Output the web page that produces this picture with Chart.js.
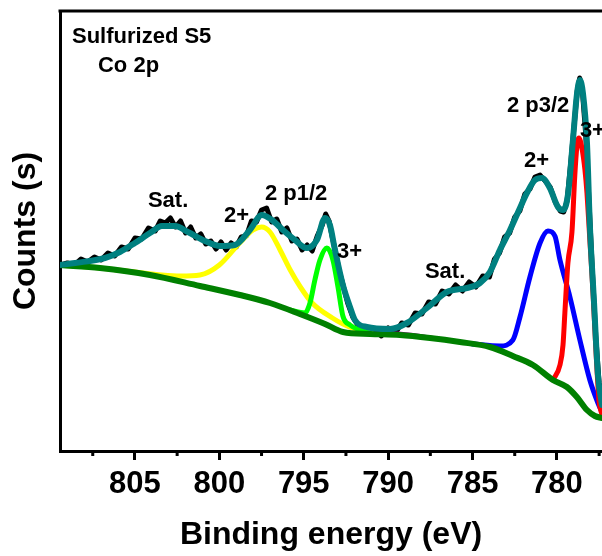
<!DOCTYPE html>
<html>
<head>
<meta charset="utf-8">
<script src="https://cdn.jsdelivr.net/npm/chart.js@4.4.1/dist/chart.umd.min.js"></script>
<style>
  html, body { margin: 0; padding: 0; background: #fff; }
  canvas { display: block; }
</style>
</head>
<body>
<canvas id="xps" width="602" height="556"></canvas>
<script>
// Co 2p XPS fit, binding energy (eV) vs counts (arb. units)
const majorTicks = [805, 800, 795, 790, 785, 780];
const minorTicks = [807.5, 802.5, 797.5, 792.5, 787.5, 782.5, 777.5];

const rawEnergy = [809.4, 809.0, 808.6, 808.2, 807.8, 807.4, 807.0, 806.6, 806.2, 805.8, 805.4, 805.0,
  804.6, 804.2, 803.8, 803.5, 803.2, 802.9, 802.6, 802.3, 802.0, 801.7, 801.4, 801.1, 800.8, 800.5,
  800.2, 799.9, 799.6, 799.3, 799.0, 798.7, 798.4, 798.1, 797.8, 797.5, 797.2, 796.9, 796.6, 796.3,
  796.0, 795.7, 795.4, 795.1, 794.8, 794.5, 794.2, 793.9, 793.7, 793.5, 793.3, 793.1, 792.9, 792.7,
  792.4, 792.1, 791.8, 791.5, 791.2, 790.8, 790.4, 790.0, 789.6, 789.2, 788.8, 788.4, 788.0, 787.6,
  787.2, 786.8, 786.4, 786.0, 785.6, 785.2, 784.8, 784.4, 784.0, 783.7, 783.4, 783.1, 782.8, 782.5,
  782.2, 781.9, 781.6, 781.3, 781.0, 780.7, 780.4, 780.1, 779.8, 779.6, 779.4, 779.2, 779.0, 778.8,
  778.65, 778.5, 778.3, 778.1, 777.9, 777.7, 777.5, 777.35];
const rawCounts = [186, 188, 186, 192, 189, 194, 191, 198, 195, 204, 202, 213,
  212, 223, 220, 230, 228, 233, 224, 230, 218, 224, 213, 217, 207, 210,
  202, 209, 201, 208, 204, 214, 215, 230, 229, 241, 243, 229, 232, 219,
  223, 210, 212, 201, 206, 200, 215, 226, 237, 230, 213, 198, 180, 168,
  148, 134, 126, 121, 119, 120, 115, 123, 117, 128, 126, 138, 137, 149,
  147, 160, 157, 166, 160, 169, 164, 175, 174, 192, 198, 214, 218, 234,
  240, 257, 262, 274, 276, 270, 264, 249, 240, 239, 250, 285, 322, 360,
  373, 362, 318, 250, 180, 115, 68, 48];

const envEnergy = [809.44, 808.55, 806.78, 805.89, 805.0, 804.11, 803.40, 802.63, 801.86, 800.85,
  799.96, 799.08, 798.19, 797.48, 796.88, 796.23, 795.52, 794.81, 794.22, 793.74, 793.45, 793.15,
  792.68, 792.26, 791.97, 791.26, 789.89, 788.89, 787.70, 786.52, 785.33, 784.56, 783.97, 783.38,
  782.78, 782.19, 781.78, 781.30, 780.89, 780.42, 779.94, 779.64, 779.35, 779.05, 778.82, 778.64,
  778.46, 778.22, 778.05, 777.81, 777.57, 777.33];
const envCounts = [186, 188, 193, 199, 208, 218, 225, 225, 219, 210,
  205, 206, 221, 236, 231, 221, 211, 203, 211, 233, 226, 201,
  166, 144, 131, 124, 122, 128, 143, 159, 163, 168, 179, 201,
  221, 243, 258, 271, 273, 263, 244, 241, 256, 311, 356, 371,
  358, 308, 226, 151, 76, 46];

const bgEnergy = [809.44, 807.07, 804.11, 801.15, 798.78, 797.0, 795.23, 793.74, 792.68, 791.08,
  789.30, 787.52, 785.75, 783.97, 782.61, 781.42, 780.24, 779.41, 778.82, 778.22, 777.75, 777.33];
const bgCounts = [186, 183, 176, 165, 156, 148, 137, 127, 119, 117,
  116, 113, 109, 104, 95, 86, 71, 64, 54, 41, 35, 33];

// Co2+ 2p1/2
const co2p1Energy = [809.44, 807.07, 805.0, 803.4, 802.3, 801.15, 800.0, 798.8, 798.0, 797.5,
  797.0, 796.4, 795.8, 795.2, 794.5, 793.3, 792.3, 791.0];
const co2p1Counts = [186, 183, 179, 176, 175, 176, 186, 208, 221, 224,
  219, 201, 181, 164, 148, 133, 124, 118];

// Co3+ 2p1/2
const co3p1Energy = [795.82, 794.93, 794.63, 794.34, 794.04, 793.63, 793.27, 792.97, 792.68, 792.26, 791.67, 791.08];
const co3p1Counts = [141, 138, 148, 171, 191, 203, 191, 164, 135, 126, 121, 118];

// satellite 2p3/2
const satEnergy = [791.5, 790.0, 788.5, 787.0, 785.5, 784.5, 783.8];
const satCounts = [118, 119, 117, 113, 109, 106, 103];

// Co2+ 2p3/2
const co2p3Energy = [785.0, 783.38, 782.61, 782.19, 781.60, 781.0, 780.53, 780.12, 779.82, 779.23,
  778.64, 778.05, 777.57, 777.33];
const co2p3Counts = [107, 105, 111, 134, 174, 208, 220, 215, 191, 154, 111, 71, 48, 39];

// Co3+ 2p3/2
const co3p3Energy = [780.24, 779.82, 779.64, 779.53, 779.35, 779.11, 778.94, 778.82, 778.70, 778.52,
  778.34, 778.22, 778.05, 777.87, 777.69, 777.51, 777.33];
const co3p3Counts = [71, 86, 106, 138, 188, 219, 276, 304, 313, 303, 281, 258, 211, 161, 101, 51, 36];

const peakLabels = [
  { text: 'Sulfurized S5', x: 808.73, y: 408 },
  { text: 'Co 2p', x: 807.19, y: 379 },
  { text: 'Sat.', x: 804.23, y: 244 },
  { text: '2+', x: 799.73, y: 229 },
  { text: '2 p1/2', x: 797.30, y: 251 },
  { text: '3+', x: 793.03, y: 193 },
  { text: 'Sat.', x: 787.82, y: 173 },
  { text: '2 p3/2', x: 782.96, y: 339 },
  { text: '2+', x: 781.95, y: 284 },
  { text: '3+', x: 778.64, y: 314 },
];

const FONT = '"Liberation Sans", Arial, sans-serif';

function toPoints(xs, ys) {
  return xs.map((x, i) => ({ x, y: ys[i] }));
}

function curve(label, xs, ys, color, width, order, smooth = true) {
  return {
    label,
    data: toPoints(xs, ys),
    borderColor: color,
    borderWidth: width,
    pointRadius: 0,
    fill: false,
    order,
    borderJoinStyle: 'round',
    borderCapStyle: 'round',
    cubicInterpolationMode: smooth ? 'monotone' : 'default',
    tension: smooth ? 0.4 : 0,
  };
}

const framePlugin = {
  id: 'frame',
  afterDraw(chart) {
    const { ctx, chartArea } = chart;
    const xs = chart.scales.x;
    ctx.save();
    ctx.strokeStyle = '#000';
    ctx.lineWidth = 3;
    ctx.beginPath();
    ctx.moveTo(chartArea.left - 1.5, chartArea.top);
    ctx.lineTo(chartArea.right, chartArea.top);
    minorTicks.forEach((v) => {
      const px = xs.getPixelForValue(v);
      ctx.moveTo(px, xs.top);
      ctx.lineTo(px, xs.top + 5);
    });
    ctx.stroke();
    ctx.restore();
  },
};

const labelPlugin = {
  id: 'peakLabels',
  afterDatasetsDraw(chart) {
    const { ctx } = chart;
    const xs = chart.scales.x;
    const ys = chart.scales.y;
    ctx.save();
    ctx.fillStyle = '#000';
    ctx.font = `bold 22px ${FONT}`;
    ctx.textAlign = 'left';
    ctx.textBaseline = 'alphabetic';
    peakLabels.forEach((l) => {
      ctx.fillText(l.text, xs.getPixelForValue(l.x), ys.getPixelForValue(l.y));
    });
    ctx.restore();
  },
};

new Chart(document.getElementById('xps'), {
  type: 'line',
  data: {
    datasets: [
      curve('Raw', rawEnergy, rawCounts, '#000000', 5, 7, false),
      curve('Sat.', satEnergy, satCounts, '#800080', 2, 6),
      curve('Co2+ 2p1/2', co2p1Energy, co2p1Counts, '#ffff00', 5, 5),
      curve('Co3+ 2p1/2', co3p1Energy, co3p1Counts, '#00ff00', 5, 4),
      curve('Co2+ 2p3/2', co2p3Energy, co2p3Counts, '#0000ff', 5, 3),
      curve('Co3+ 2p3/2', co3p3Energy, co3p3Counts, '#ff0000', 5, 2),
      curve('Background', bgEnergy, bgCounts, '#008000', 6, 1),
      curve('Envelope', envEnergy, envCounts, '#008080', 6, 0),
    ],
  },
  options: {
    responsive: false,
    animation: false,
    devicePixelRatio: 1,
    layout: { padding: { top: 11, right: 0, left: 0, bottom: 0 } },
    plugins: { legend: { display: false }, tooltip: { enabled: false } },
    scales: {
      x: {
        type: 'linear',
        reverse: true,
        min: 777.33,
        max: 809.44,
        afterBuildTicks: (scale) => {
          scale.ticks = majorTicks.map((v) => ({ value: v }));
        },
        afterFit: (scale) => { scale.height = 105; },
        ticks: {
          autoSkip: false,
          maxRotation: 0,
          padding: 6,
          color: '#000',
          font: { family: FONT, size: 31, weight: 'bold' },
        },
        grid: {
          drawOnChartArea: false,
          drawTicks: true,
          tickLength: 9,
          tickWidth: 3,
          tickColor: '#000',
        },
        border: { display: true, width: 3, color: '#000' },
        title: {
          display: true,
          text: 'Binding energy (eV)',
          color: '#000',
          padding: { top: 0, bottom: 2 },
          font: { family: FONT, size: 32, weight: 'bold' },
        },
      },
      y: {
        min: 0,
        max: 440,
        afterFit: (scale) => { scale.width = 60; },
        ticks: { display: false },
        grid: { drawOnChartArea: false, drawTicks: false },
        border: { display: true, width: 3, color: '#000' },
        title: {
          display: true,
          text: 'Counts (s)',
          color: '#000',
          padding: { top: 7, bottom: 0 },
          font: { family: FONT, size: 32, weight: 'bold' },
        },
      },
    },
  },
  plugins: [framePlugin, labelPlugin],
});
</script>
</body>
</html>
